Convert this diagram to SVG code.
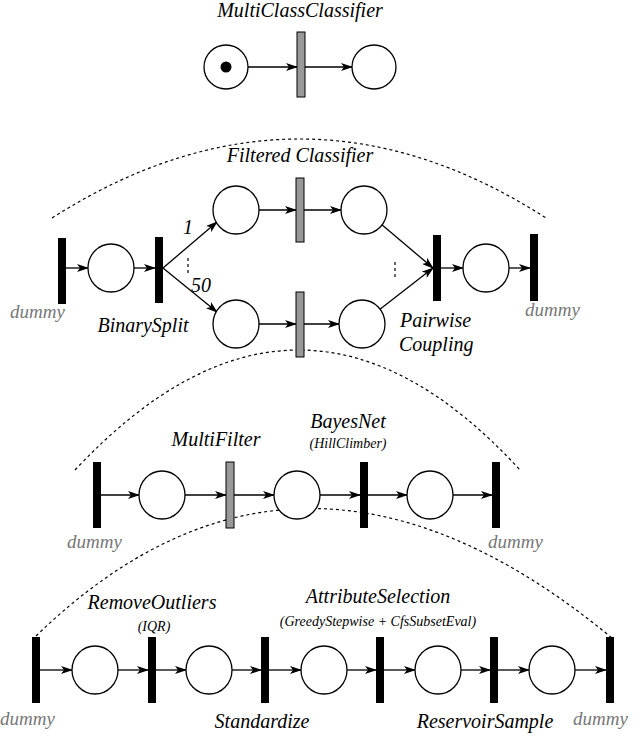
<svg xmlns="http://www.w3.org/2000/svg" width="640" height="736" viewBox="0 0 640 736">
<style>
.p{fill:#fff;stroke:#000;stroke-width:1.3}
.t{fill:#000}
.g{fill:#999;stroke:#000;stroke-width:1}
.e{stroke:#000;stroke-width:1.3;fill:none;marker-end:url(#a)}
.d{stroke:#000;stroke-width:1.2;fill:none;stroke-dasharray:3,3}
text{font-family:"Liberation Serif","Times New Roman","DejaVu Serif",serif;font-style:italic;font-size:20px;fill:#000}
.dm{fill:#777;font-size:19px}
.s{font-size:14px}
</style>
<defs><marker id="a" markerWidth="12" markerHeight="8" refX="11" refY="4" orient="auto" markerUnits="userSpaceOnUse"><path d="M0,0 L12,4 L0,8 L3,4 z" fill="#000"/></marker></defs>
<rect width="640" height="736" fill="#fff"/>
<g id="connectors">
<line class="e" x1="248" y1="67" x2="297" y2="67"/><line class="e" x1="305" y1="67" x2="352" y2="67"/>
<path class="d" d="M52,218 Q300,60 546,218"/>
<line class="e" x1="66" y1="268" x2="88" y2="268"/><line class="e" x1="134" y1="268" x2="155" y2="268"/>
<line class="e" x1="163" y1="268" x2="217" y2="222"/><line class="e" x1="163" y1="268" x2="217" y2="312"/>
<line class="e" x1="259" y1="210" x2="296" y2="210"/><line class="e" x1="304" y1="210" x2="341" y2="210"/>
<line class="e" x1="259" y1="324" x2="296" y2="324"/><line class="e" x1="304" y1="324" x2="339" y2="324"/>
<line class="e" x1="381" y1="224" x2="433" y2="268"/><line class="e" x1="379" y1="310" x2="433" y2="268"/>
<line class="e" x1="441" y1="268" x2="463" y2="268"/><line class="e" x1="509" y1="268" x2="530" y2="268"/>
<path class="d" d="M75,470 Q300,230 520,470"/>
<line class="e" x1="101" y1="495" x2="139" y2="495"/><line class="e" x1="185" y1="495" x2="226" y2="495"/>
<line class="e" x1="234" y1="495" x2="274" y2="495"/><line class="e" x1="320" y1="495" x2="360" y2="495"/>
<line class="e" x1="368" y1="495" x2="407" y2="495"/><line class="e" x1="453" y1="495" x2="492" y2="495"/>
<path class="d" d="M36,636 Q300,380 612,638"/>
<line class="e" x1="40" y1="670" x2="72" y2="670"/><line class="e" x1="118" y1="670" x2="148" y2="670"/>
<line class="e" x1="156" y1="670" x2="186" y2="670"/><line class="e" x1="232" y1="670" x2="261" y2="670"/>
<line class="e" x1="269" y1="670" x2="301" y2="670"/><line class="e" x1="347" y1="670" x2="376" y2="670"/>
<line class="e" x1="384" y1="670" x2="415" y2="670"/><line class="e" x1="461" y1="670" x2="490" y2="670"/>
<line class="e" x1="498" y1="670" x2="529" y2="670"/><line class="e" x1="575" y1="670" x2="606" y2="670"/>
</g>
<g id="mcc"><circle class="p" cx="226" cy="67" r="22"/><circle cx="226" cy="67" r="5.5"/><rect class="g" x="297" y="32" width="8" height="65"/><circle class="p" cx="374" cy="67" r="22"/><text x="300" y="17" text-anchor="middle">MultiClassClassifier</text></g>
<g id="row2">
<rect class="t" x="58" y="238" width="8" height="66"/><ellipse class="p" cx="111" cy="268" rx="23" ry="24"/><rect class="t" x="155" y="237" width="8" height="66"/>
<ellipse class="p" cx="236" cy="210" rx="23" ry="24"/><rect class="g" x="296" y="178" width="8" height="64"/><ellipse class="p" cx="364" cy="210" rx="23" ry="24"/>
<ellipse class="p" cx="236" cy="324" rx="23" ry="24"/><rect class="g" x="296" y="292" width="8" height="65"/><ellipse class="p" cx="362" cy="324" rx="23" ry="24"/>
<rect class="t" x="433" y="235" width="8" height="66"/><ellipse class="p" cx="486" cy="268" rx="23" ry="24"/><rect class="t" x="530" y="234" width="8" height="67"/>
<path class="d" d="M188,258 V274 M395,262 V278" stroke-dasharray="2,3"/>
<text x="183" y="234" font-size="14">1</text><text x="191" y="292" font-size="14">50</text>
<text x="300" y="162" text-anchor="middle">Filtered Classifier</text>
<text class="dm" x="10" y="318">dummy</text><text class="dm" x="525" y="316">dummy</text>
<text x="143" y="332" text-anchor="middle">BinarySplit</text>
<text x="400" y="327">Pairwise</text><text x="399" y="351">Coupling</text>
</g>
<g id="row3">
<rect class="t" x="93" y="462" width="8" height="66"/><ellipse class="p" cx="162" cy="495" rx="23" ry="24"/><rect class="g" x="226" y="462" width="8" height="66"/>
<ellipse class="p" cx="297" cy="495" rx="23" ry="24"/><rect class="t" x="360" y="462" width="8" height="66"/><ellipse class="p" cx="430" cy="495" rx="23" ry="24"/><rect class="t" x="492" y="462" width="8" height="66"/>
<text x="216" y="446" text-anchor="middle">MultiFilter</text><text x="348" y="428" text-anchor="middle">BayesNet</text><text class="s" x="348" y="448" text-anchor="middle">(HillClimber)</text>
<text class="dm" x="67" y="548">dummy</text><text class="dm" x="488" y="548">dummy</text>
</g>
<g id="row4">
<rect class="t" x="32" y="637" width="8" height="66"/><ellipse class="p" cx="95" cy="670" rx="23" ry="24"/><rect class="t" x="148" y="637" width="8" height="66"/>
<ellipse class="p" cx="209" cy="670" rx="23" ry="24"/><rect class="t" x="261" y="637" width="8" height="66"/><ellipse class="p" cx="324" cy="670" rx="23" ry="24"/>
<rect class="t" x="376" y="637" width="8" height="66"/><ellipse class="p" cx="438" cy="670" rx="23" ry="24"/><rect class="t" x="490" y="637" width="8" height="66"/>
<ellipse class="p" cx="552" cy="670" rx="23" ry="24"/><rect class="t" x="606" y="637" width="8" height="66"/>
<text x="152" y="609" text-anchor="middle">RemoveOutliers</text><text class="s" x="154" y="631" text-anchor="middle">(IQR)</text>
<text x="378" y="603" text-anchor="middle">AttributeSelection</text><text class="s" x="378" y="626" text-anchor="middle">(GreedyStepwise + CfsSubsetEval)</text>
<text class="dm" x="0" y="725">dummy</text><text x="262" y="728" text-anchor="middle">Standardize</text><text x="485" y="728" text-anchor="middle">ReservoirSample</text><text class="dm" x="573" y="725">dummy</text>
</g>
</svg>
